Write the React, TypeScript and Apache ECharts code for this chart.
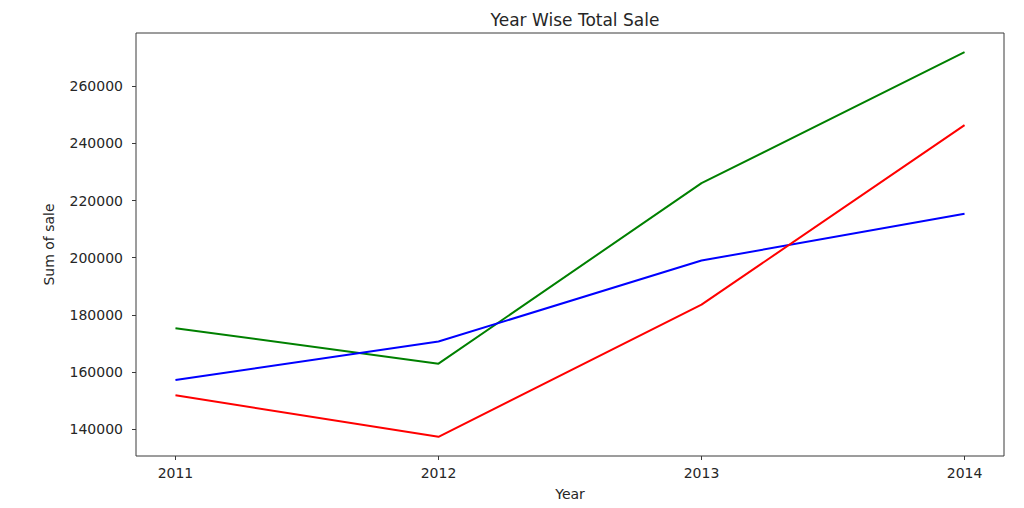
import React, { useEffect, useRef } from "react";
import * as echarts from "echarts";

const years = [2011, 2012, 2013, 2014];
const greenSales = [175300, 162900, 226100, 271950];
const blueSales = [157200, 170650, 199000, 215400];
const redSales = [151800, 137300, 183550, 246450];
const yTicks = [140000, 160000, 180000, 200000, 220000, 240000, 260000];

const FONT = "DejaVu Sans";
const TXT = "#262626";
const AX = "#3a3a3a";

export default function App() {
  const ref = useRef<HTMLDivElement>(null);
  useEffect(() => {
    if (!ref.current) return;
    const chart = echarts.init(ref.current, undefined, { renderer: "svg" });
    const pairs = (vals: number[]) => years.map((y, i) => [y, vals[i]]);
    const allVals = [...greenSales, ...blueSales, ...redSales];
    const lo = Math.min(...allVals);
    const hi = Math.max(...allVals);
    const pad = (hi - lo) * 0.05;
    const xPad = (years[years.length - 1] - years[0]) * 0.05;
    chart.setOption({
      animation: false,
      backgroundColor: "#ffffff",
      title: {
        text: "Year Wise Total Sale",
        left: 570,
        textAlign: "center",
        top: 6,
        textStyle: { fontFamily: FONT, fontSize: 17, fontWeight: "normal", color: TXT },
      },
      grid: {
        left: 136,
        right: 20,
        top: 33,
        bottom: 52,
        show: true,
        borderColor: AX,
        borderWidth: 1,
        backgroundColor: "transparent",
      },
      xAxis: {
        type: "value",
        min: years[0] - xPad,
        max: years[years.length - 1] + xPad,
        name: "Year",
        nameLocation: "middle",
        nameGap: 31,
        nameTextStyle: { fontFamily: FONT, fontSize: 14, color: TXT },
        axisLine: { show: false },
        splitLine: { show: false },
        axisTick: {
          show: true,
          length: 4,
          lineStyle: { color: AX },
          customValues: years,
        },
        axisLabel: {
          fontFamily: FONT,
          fontSize: 14,
          color: TXT,
          margin: 10,
          customValues: years,
          formatter: (v: number) => String(Math.round(v)),
        },
      },
      yAxis: {
        type: "value",
        min: lo - pad,
        max: hi + pad,
        name: "Sum of sale",
        nameLocation: "middle",
        nameGap: 80,
        nameTextStyle: { fontFamily: FONT, fontSize: 14, color: TXT },
        axisLine: { show: false },
        splitLine: { show: false },
        axisTick: {
          show: true,
          length: 4,
          lineStyle: { color: AX },
          customValues: yTicks,
        },
        axisLabel: {
          fontFamily: FONT,
          fontSize: 14,
          color: TXT,
          margin: 13,
          customValues: yTicks,
          formatter: (v: number) => String(Math.round(v)),
        },
      },
      series: [
        {
          type: "line",
          name: "Green",
          data: pairs(greenSales),
          showSymbol: false,
          lineStyle: { color: "#008000", width: 2 },
          itemStyle: { color: "#008000" },
        },
        {
          type: "line",
          name: "Blue",
          data: pairs(blueSales),
          showSymbol: false,
          lineStyle: { color: "#0000ff", width: 2 },
          itemStyle: { color: "#0000ff" },
        },
        {
          type: "line",
          name: "Red",
          data: pairs(redSales),
          showSymbol: false,
          lineStyle: { color: "#ff0000", width: 2 },
          itemStyle: { color: "#ff0000" },
        },
      ],
    });
    return () => chart.dispose();
  }, []);
  return (
    <div
      ref={ref}
      style={{ position: "fixed", left: 0, top: 0, width: 1024, height: 508, background: "#fff" }}
    />
  );
}
